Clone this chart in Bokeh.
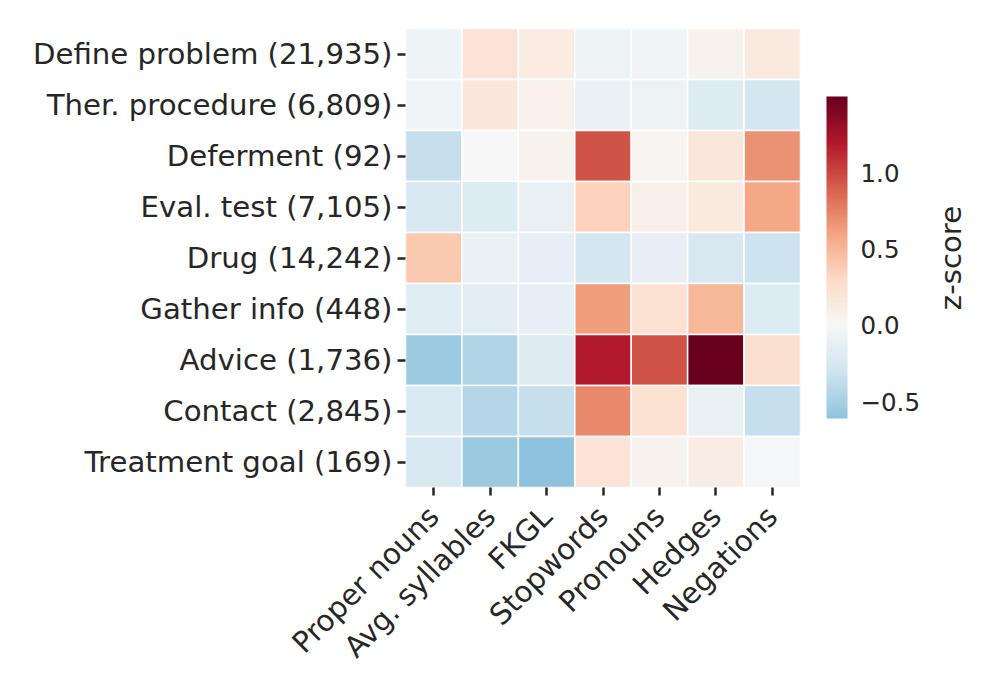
import numpy as np
from bokeh.plotting import figure
from bokeh.layouts import row
from bokeh.models import (ColumnDataSource, LinearColorMapper, ColorBar, FixedTicker,
                          CustomJSTickFormatter, Title, FactorRange)
from bokeh.transform import transform
from bokeh.embed import file_html
from bokeh.resources import INLINE

# ---------------- data ----------------
row_labels = ["Define problem (21,935)", "Ther. procedure (6,809)", "Deferment (92)",
              "Eval. test (7,105)", "Drug (14,242)", "Gather info (448)",
              "Advice (1,736)", "Contact (2,845)", "Treatment goal (169)"]
col_labels = ["Proper nouns", "Avg. syllables", "FKGL", "Stopwords",
              "Pronouns", "Hedges", "Negations"]

proper_nouns   = [-0.07, -0.05, -0.35, -0.25,  0.40, -0.18, -0.55, -0.22, -0.24]
avg_syllables  = [ 0.20,  0.16,  0.00, -0.20, -0.10, -0.15, -0.45, -0.43, -0.56]
fkgl           = [ 0.13,  0.07,  0.05, -0.11, -0.13, -0.14, -0.19, -0.35, -0.61]
stopwords      = [-0.08, -0.10,  0.95,  0.35, -0.28,  0.63,  1.20,  0.72,  0.20]
pronouns       = [-0.05, -0.08,  0.04,  0.09, -0.13,  0.23,  0.95,  0.23,  0.05]
hedges         = [ 0.05, -0.20,  0.17,  0.15, -0.24,  0.50,  1.50, -0.10,  0.12]
negations      = [ 0.15, -0.28,  0.68,  0.58, -0.32, -0.20,  0.25, -0.35, -0.01]

series = [proper_nouns, avg_syllables, fkgl, stopwords, pronouns, hedges, negations]

cb_ticks = [-0.5, 0.0, 0.5, 1.0]
cb_title = "z-score"

# ---------------- colour map (RdBu_r centred at 0) ----------------
rdbu_r_anchors = ["#053061", "#2166ac", "#4393c3", "#92c5de", "#d1e5f0", "#f7f7f7",
                  "#fddbc7", "#f4a582", "#d6604d", "#b2182b", "#67001f"]
anc = np.array([[int(h[i:i + 2], 16) for i in (1, 3, 5)] for h in rdbu_r_anchors], float)
pos = np.linspace(0, 1, len(rdbu_r_anchors))

all_vals = np.array(series).ravel()
vmin, vmax = float(all_vals.min()), float(all_vals.max())
vr = max(vmax, -vmin)
ts = np.linspace((vmin + vr) / (2 * vr), (vmax + vr) / (2 * vr), 256)
palette = []
for t in ts:
    rgb = [np.interp(t, pos, anc[:, k]) for k in range(3)]
    palette.append("#%02x%02x%02x" % tuple(int(round(c)) for c in rgb))

mapper = LinearColorMapper(palette=palette, low=vmin, high=vmax)

xs, ys, vs = [], [], []
for ci, col in enumerate(col_labels):
    for ri, rname in enumerate(row_labels):
        xs.append(col)
        ys.append(rname)
        vs.append(series[ci][ri])
source = ColumnDataSource(dict(x=xs, y=ys, v=vs))

# ---------------- figure ----------------
TXT = "#262626"
FONT = "DejaVu Sans"
FS = "29.2px"

p = figure(x_range=FactorRange(*col_labels), y_range=FactorRange(*reversed(row_labels)),
           width=929, height=680, output_backend="svg", toolbar_location=None,
           min_border_left=405, min_border_right=129, min_border_top=28, min_border_bottom=193)
p.outline_line_color = None
p.grid.grid_line_color = None
p.background_fill_color = "white"

p.rect(x="x", y="y", width=1, height=1, source=source,
       fill_color=transform("v", mapper), line_color="white", line_width=1.5)

for ax in (p.xaxis[0], p.yaxis[0]):
    ax.axis_line_color = None
    ax.major_tick_in = 0
    ax.major_tick_out = 8
    ax.major_tick_line_width = 2.5
    ax.major_tick_line_color = TXT
    ax.minor_tick_line_color = None
    ax.major_label_text_font = FONT
    ax.major_label_text_font_size = FS
    ax.major_label_text_color = TXT
    ax.major_label_standoff = 5

p.xaxis.major_label_orientation = np.pi / 4
p.xaxis.major_label_standoff = 16

cb = ColorBar(color_mapper=mapper, width=21, height=322, padding=0,
              location=(421, 69),
              ticker=FixedTicker(ticks=cb_ticks),
              formatter=CustomJSTickFormatter(code="return (tick < 0 ? '\\u2212' : '') + Math.abs(tick).toFixed(1);"),
              major_tick_line_color=None, minor_tick_line_color=None,
              bar_line_color=None, label_standoff=13,
              major_label_text_font=FONT, major_label_text_font_size="24.5px",
              major_label_text_color=TXT, background_fill_color=None)
p.add_layout(cb, "center")

# side strip carrying the colour-bar caption (reads bottom-to-top)
p2 = figure(width=60, height=680, output_backend="svg", toolbar_location=None,
            x_axis_location=None, y_axis_location=None,
            min_border_left=0, min_border_right=0, min_border_top=28, min_border_bottom=193)
p2.outline_line_color = None
p2.grid.grid_line_color = None
p2.add_layout(Title(text=cb_title, align="center", text_font=FONT, text_font_size=FS,
                    text_font_style="normal", text_color=TXT, standoff=4), "left")

layout = row(p, p2)
open("out.html", "w").write(file_html(layout, INLINE))
